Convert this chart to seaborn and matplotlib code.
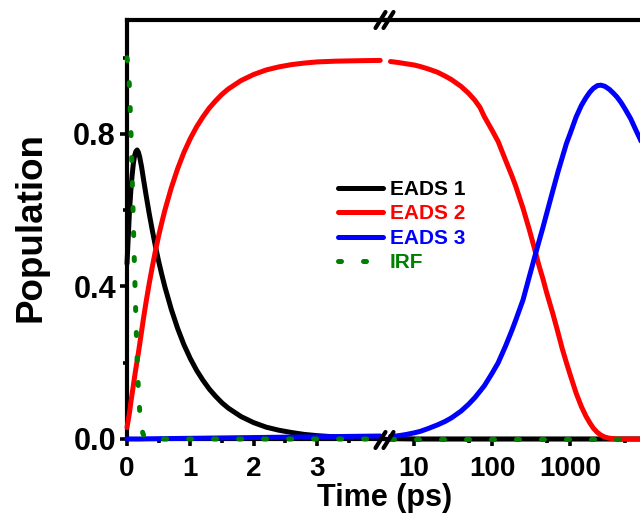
import matplotlib
matplotlib.use("Agg")
import matplotlib.pyplot as plt
from matplotlib.lines import Line2D
from matplotlib.ticker import NullFormatter
import seaborn as sns
import pandas as pd

# ---- populations of the sequential EADS model ----
# linear time segment (ps)
t_lin = [0.00, 0.02, 0.04, 0.06, 0.08, 0.10, 0.12, 0.14, 0.16, 0.18, 0.20, 0.23,
         0.26, 0.30, 0.35, 0.40, 0.45, 0.50, 0.55, 0.60, 0.70, 0.80, 0.90, 1.00,
         1.10, 1.20, 1.30, 1.40, 1.50, 1.60, 1.80, 2.00, 2.20, 2.40, 2.60, 2.80,
         3.00, 3.30, 3.60, 4.00]
eads1_lin = [0.46, 0.53, 0.60, 0.65, 0.69, 0.722, 0.743, 0.754, 0.758, 0.752, 0.740,
             0.714, 0.682, 0.641, 0.592, 0.547, 0.505, 0.466, 0.431, 0.398, 0.340,
             0.290, 0.247, 0.211, 0.180, 0.154, 0.131, 0.112, 0.095, 0.081, 0.059,
             0.043, 0.031, 0.023, 0.017, 0.012, 0.0088, 0.0055, 0.0034, 0.0018]
eads2_lin = [0.03, 0.05, 0.07, 0.095, 0.118, 0.14, 0.163, 0.185, 0.205, 0.226, 0.248,
             0.282, 0.316, 0.358, 0.407, 0.452, 0.494, 0.533, 0.568, 0.601, 0.659,
             0.709, 0.752, 0.788, 0.819, 0.845, 0.868, 0.887, 0.904, 0.918, 0.940,
             0.956, 0.968, 0.976, 0.982, 0.986, 0.989, 0.991, 0.992, 0.993]
eads3_lin = [0.0, 0.0, 0.0, 0.0, 0.0, 0.0, 0.0, 0.0, 0.0, 0.0, 0.0, 0.0,
             0.0003, 0.0004, 0.0005, 0.0006, 0.0007, 0.0008, 0.0009, 0.001, 0.0012,
             0.0014, 0.0016, 0.0018, 0.002, 0.0022, 0.0024, 0.0026, 0.0028, 0.003,
             0.0034, 0.0038, 0.0042, 0.0046, 0.005, 0.0054, 0.0058, 0.0064, 0.007,
             0.0078]

# instrument response function
t_irf = [0.00, 0.02, 0.04, 0.06, 0.08, 0.10, 0.12, 0.14, 0.16, 0.18, 0.20, 0.22,
         0.25, 0.28, 0.32, 4.00]
irf_lin = [1.0, 0.975, 0.92, 0.82, 0.70, 0.57, 0.44, 0.32, 0.21, 0.13, 0.075, 0.04,
           0.015, 0.004, 0.0, 0.0]

# logarithmic time segment (ps)
t_log = [5, 6, 7, 8, 10, 12, 15, 20, 25, 30, 40, 50, 60, 70, 80, 100, 120, 150,
         180, 200, 250, 300, 350, 400, 450, 500, 600, 700, 800, 900, 1000, 1200,
         1400, 1600, 1800, 2000, 2250, 2500, 2800, 3200, 3600, 4000, 4500, 5000,
         6000, 7000, 8000, 9000, 10000]
eads1_log = [0.001, 0.0008, 0.0006, 0.0004, 0.0002] + [0.0] * 44
eads2_log = [0.990, 0.988, 0.986, 0.984, 0.981, 0.977, 0.971, 0.962, 0.952, 0.943,
             0.925, 0.907, 0.889, 0.870, 0.845, 0.810, 0.780, 0.730, 0.690, 0.665,
             0.605, 0.550, 0.500, 0.455, 0.420, 0.385, 0.330, 0.280, 0.235, 0.200,
             0.170, 0.120, 0.085, 0.060, 0.042, 0.028, 0.017, 0.010, 0.005, 0.002,
             0.001, 0.0, 0.0, 0.0, 0.0, 0.0, 0.0, 0.0, 0.0]
eads3_log = [0.007, 0.008, 0.010, 0.012, 0.016, 0.020, 0.027, 0.037, 0.046, 0.055,
             0.073, 0.091, 0.108, 0.125, 0.140, 0.172, 0.200, 0.245, 0.285, 0.310,
             0.365, 0.425, 0.475, 0.518, 0.555, 0.590, 0.650, 0.700, 0.740, 0.775,
             0.800, 0.845, 0.875, 0.895, 0.910, 0.920, 0.927, 0.928, 0.925, 0.917,
             0.907, 0.897, 0.883, 0.868, 0.840, 0.810, 0.785, 0.760, 0.735]
irf_log = [0.0] * len(t_log)

labels = ["EADS 1", "EADS 2", "EADS 3", "IRF"]
colors = ["#000000", "#FF0000", "#0000FF", "#008000"]

sns.set_theme(style="ticks")
plt.rcParams["font.family"] = ["Liberation Sans", "DejaVu Sans"]
plt.rcParams["font.weight"] = "bold"
for key in ("text.color", "axes.labelcolor", "xtick.color", "ytick.color",
            "axes.edgecolor"):
    plt.rcParams[key] = "black"

W, H = 640, 521
fig = plt.figure(figsize=(W / 100, H / 100), dpi=100)

def fx(px):
    return px / W

def fy(py):
    return 1 - py / H

bottom = fy(439)
height = (439 - 19.6) / H
ax1 = fig.add_axes([fx(127), bottom, fx(385 - 127), height])
ax2 = fig.add_axes([fx(385), bottom, fx(648 - 385), height], sharey=ax1)
ax2.patch.set_visible(False)

lw = 3.6
irf_lw = 3.6
dots = (0, (0.6, 4.4))

lin_df = pd.DataFrame({"t": t_lin, "EADS 1": eads1_lin, "EADS 2": eads2_lin,
                       "EADS 3": eads3_lin})
log_df = pd.DataFrame({"t": t_log, "EADS 1": eads1_log, "EADS 2": eads2_log,
                       "EADS 3": eads3_log, "IRF": irf_log})
irf_df = pd.DataFrame({"t": t_irf, "IRF": irf_lin})

for ax, df, idf in [(ax1, lin_df, irf_df), (ax2, log_df, log_df)]:
    for i, name in enumerate(labels[:3]):
        sns.lineplot(data=df, x="t", y=name, ax=ax, color=colors[i], lw=lw,
                     clip_on=False, zorder=4 + i, legend=False, sort=False)
    sns.lineplot(data=idf, x="t", y="IRF", ax=ax, color=colors[3], lw=irf_lw,
                 linestyle=dots, dash_capstyle="round", clip_on=False, zorder=8,
                 legend=False, sort=False)

# axes styling
ax1.set_xlim(0, (385 - 127) / 63.3)
ax1.set_ylim(0, 1.1)
ax2.set_xscale("log")
ax2.set_xlim(10 ** (1 - 29 / 78), 10000)

for ax in (ax1, ax2):
    for s in ax.spines.values():
        s.set_linewidth(3.0)
        s.set_color("black")
    ax.set_xlabel("")
    ax.set_ylabel("")
    ax.tick_params(axis="both", which="major", direction="out", length=5, width=2.6,
                   color="black", labelcolor="black", labelsize=20, pad=4)
    ax.tick_params(axis="both", which="minor", direction="out", length=2.8,
                   width=2.6, color="black")

ax1.spines["right"].set_visible(False)
ax2.spines["left"].set_visible(False)
ax2.tick_params(axis="y", which="both", left=False, labelleft=False)

ax1.set_xticks([0, 1, 2, 3])
ax1.set_xticks([0.5, 1.5, 2.5, 3.5], minor=True)
ax1.set_yticks([0.0, 0.4, 0.8])
ax1.set_yticks([0.2, 0.6, 1.0], minor=True)
ax1.set_yticklabels(["0.0", "0.4", "0.8"])
ax1.tick_params(axis="y", which="major", pad=3, labelsize=22)
ax1.tick_params(axis="x", pad=7)
ax2.set_xticks([10, 100, 1000], labels=["10", "100", "1000"])
ax2.set_xticks([50, 500, 5000], minor=True)
ax2.xaxis.set_minor_formatter(NullFormatter())
ax2.tick_params(axis="x", pad=7)
for lab in ax1.get_xticklabels() + ax1.get_yticklabels() + ax2.get_xticklabels():
    lab.set_fontweight("bold")

# axis break marks
for py in (20, 440):
    for cx in (380.5, 388.5):
        fig.add_artist(Line2D([fx(cx - 5), fx(cx + 5)], [fy(py + 8), fy(py - 8)],
                              transform=fig.transFigure, color="black", lw=3.0,
                              solid_capstyle="round", zorder=20))

# axis titles
fig.text(fx(385), fy(498), "Time (ps)", ha="center", va="center", fontsize=22,
         fontweight="bold")
fig.text(fx(31), fy(227), "Population", ha="center", va="center", rotation=90,
         fontsize=26.5, fontweight="bold")

# legend
handles = [Line2D([], [], color=colors[i], lw=lw) for i in range(3)]
handles.append(Line2D([], [], color=colors[3], lw=irf_lw, linestyle=dots,
                      dash_capstyle="round"))
leg = fig.legend(handles, labels, loc="upper left", frameon=False,
                 bbox_to_anchor=(fx(338), fy(180)), bbox_transform=fig.transFigure,
                 prop={"size": 15, "weight": "bold"}, handlelength=2.15,
                 handletextpad=0.33, labelspacing=0.26, borderaxespad=0,
                 borderpad=0)
for txt, c in zip(leg.get_texts(), colors):
    txt.set_color(c)

fig.savefig("out.png", dpi=100)
